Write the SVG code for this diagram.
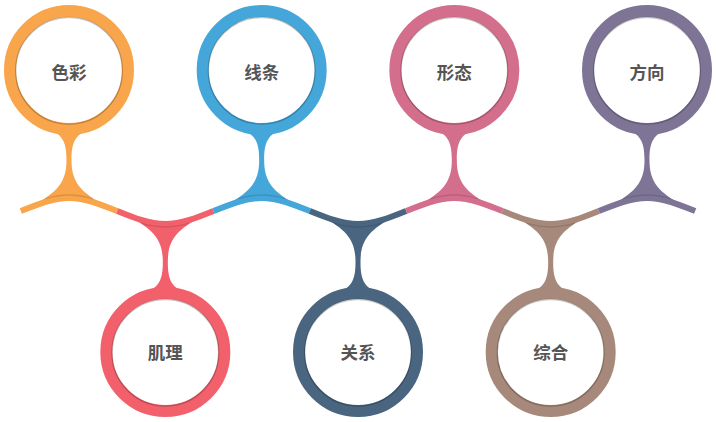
<svg xmlns="http://www.w3.org/2000/svg" width="716" height="422" viewBox="0 0 716 422">
<style>
.ring{fill:#fff;stroke-width:12}
.inner{fill:none;stroke:#000;stroke-opacity:.22;stroke-width:1.4}
.edge{fill:none;stroke:#000;stroke-opacity:.12;stroke-width:1.4}
.wave{fill:none;stroke-width:6;stroke-linecap:butt}
.lbl{font-family:"Noto Sans CJK SC","Noto Sans",sans-serif;font-size:17.5px;font-weight:bold;fill:#555;text-anchor:middle;dominant-baseline:central}
.c1{fill:#F8A54B;stroke:#F8A54B}
.c2{fill:#F1606B;stroke:#F1606B}
.c3{fill:#45A6D9;stroke:#45A6D9}
.c4{fill:#4A6580;stroke:#4A6580}
.c5{fill:#D36E8D;stroke:#D36E8D}
.c6{fill:#A6897A;stroke:#A6897A}
.c7{fill:#7E7596;stroke:#7E7596}
</style>
<defs>
<path id="stemTop" d="M-24,127 C-6,134 -2.5,142 -2.5,160 C-2.5,178 -8,190 -32,203 Q0,193 32,203 C8,190 2.5,178 2.5,160 C2.5,142 6,134 24,127 Z" stroke="none"/>
<path id="stemBot" d="M-24,295 C-6,288 -2.5,280 -2.5,262 C-2.5,244 -8,232 -32,219 Q0,229 32,219 C8,232 2.5,244 2.5,262 C2.5,280 6,288 24,295 Z" stroke="none"/>
</defs>
<g id="connectors">
<path class="wave c1" style="fill:none" d="M20.83,211 C36.89,204.5 52.94,198 69,198 C85.06,198 101.11,204.5 117.17,211"/>
<path class="wave c2" style="fill:none" d="M117.17,211 C133.23,217.5 149.28,224 165.33,224 C181.39,224 197.44,217.5 213.5,211"/>
<path class="wave c3" style="fill:none" d="M213.5,211 C229.56,204.5 245.61,198 261.67,198 C277.73,198 293.78,204.5 309.83,211"/>
<path class="wave c4" style="fill:none" d="M309.83,211 C325.89,217.5 341.94,224 358,224 C374.06,224 390.11,217.5 406.17,211"/>
<path class="wave c5" style="fill:none" d="M406.17,211 C422.23,204.5 438.28,198 454.33,198 C470.39,198 486.44,204.5 502.5,211"/>
<path class="wave c6" style="fill:none" d="M502.5,211 C518.56,217.5 534.61,224 550.67,224 C566.73,224 582.78,217.5 598.83,211"/>
<path class="wave c7" style="fill:none" d="M598.83,211 C614.89,204.5 630.94,198 647,198 C663.06,198 679.11,204.5 695.17,211"/>
</g>
<g id="node-secai" transform="translate(69,0)">
<use href="#stemTop" class="c1"/>
<path class="edge" d="M-24,198.8 Q0,191.2 24,198.8"/>
<circle class="ring c1" style="fill:#fff" cx="0" cy="70" r="59"/>
<circle class="inner" cx="0" cy="70.8" r="53.3"/>
<text class="lbl" x="0" y="71">色彩</text>
</g>
<g id="node-jili" transform="translate(165.33,0)">
<use href="#stemBot" class="c2"/>
<path class="edge" d="M-24,223.2 Q0,230.8 24,223.2"/>
<circle class="ring c2" style="fill:#fff" cx="0" cy="352" r="59"/>
<circle class="inner" cx="0" cy="352.8" r="53.3"/>
<text class="lbl" x="0" y="351">肌理</text>
</g>
<g id="node-xiantiao" transform="translate(261.67,0)">
<use href="#stemTop" class="c3"/>
<path class="edge" d="M-24,198.8 Q0,191.2 24,198.8"/>
<circle class="ring c3" style="fill:#fff" cx="0" cy="70" r="59"/>
<circle class="inner" cx="0" cy="70.8" r="53.3"/>
<text class="lbl" x="0" y="71">线条</text>
</g>
<g id="node-guanxi" transform="translate(358,0)">
<use href="#stemBot" class="c4"/>
<path class="edge" d="M-24,223.2 Q0,230.8 24,223.2"/>
<circle class="ring c4" style="fill:#fff" cx="0" cy="352" r="59"/>
<circle class="inner" cx="0" cy="352.8" r="53.3"/>
<text class="lbl" x="0" y="351">关系</text>
</g>
<g id="node-xingtai" transform="translate(454.33,0)">
<use href="#stemTop" class="c5"/>
<path class="edge" d="M-24,198.8 Q0,191.2 24,198.8"/>
<circle class="ring c5" style="fill:#fff" cx="0" cy="70" r="59"/>
<circle class="inner" cx="0" cy="70.8" r="53.3"/>
<text class="lbl" x="0" y="71">形态</text>
</g>
<g id="node-zonghe" transform="translate(550.67,0)">
<use href="#stemBot" class="c6"/>
<path class="edge" d="M-24,223.2 Q0,230.8 24,223.2"/>
<circle class="ring c6" style="fill:#fff" cx="0" cy="352" r="59"/>
<circle class="inner" cx="0" cy="352.8" r="53.3"/>
<text class="lbl" x="0" y="351">综合</text>
</g>
<g id="node-fangxiang" transform="translate(647,0)">
<use href="#stemTop" class="c7"/>
<path class="edge" d="M-24,198.8 Q0,191.2 24,198.8"/>
<circle class="ring c7" style="fill:#fff" cx="0" cy="70" r="59"/>
<circle class="inner" cx="0" cy="70.8" r="53.3"/>
<text class="lbl" x="0" y="71">方向</text>
</g>
</svg>
